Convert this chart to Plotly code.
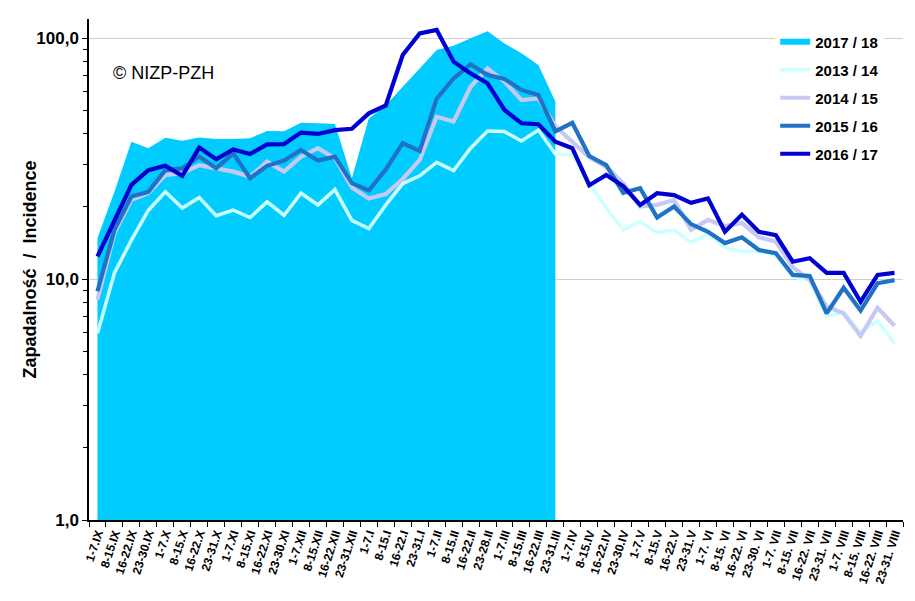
import plotly.graph_objects as go

weeks = ["1-7.IX", "8-15.IX", "16-22.IX", "23-30.IX", "1-7.X", "8-15.X", "16-22.X", "23-31.X",
         "1-7.XI", "8-15.XI", "16-22.XI", "23-30.XI", "1-7.XII", "8-15.XII", "16-22.XII", "23-31.XII",
         "1-7.I", "8-15.I", "16-22.I", "23-31.I", "1-7.II", "8-15.II", "16-22.II", "23-28.II",
         "1-7.III", "8-15.III", "16-22.III", "23-31.III", "1-7.IV", "8-15.IV", "16-22.IV", "23-30.IV",
         "1-7.V", "8-15.V", "16-22.V", "23-31.V", "1-7. VI", "8-15. VI", "16-22. VI", "23-30. VI",
         "1-7. VII", "8-15. VII", "16-22. VII", "23-31. VII", "1-7. VIII", "8-15. VIII", "16-22. VIII", "23-31. VIII"]

s2017_18 = [14.8, 23.0, 37.1, 34.9, 38.6, 37.5, 38.7, 38.1, 38.1, 38.4, 41.1, 41.0, 44.5, 44.3,
            44.0, 26.2, 46.4, 52.5, 62.8, 74.8, 89.1, 93.0, 99.7, 106.6, 95.0, 86.4, 77.3, 54.5]

s2013_14 = [5.95, 10.6, 14.5, 19.3, 23.0, 19.7, 21.8, 18.3, 19.3, 18.0, 20.9, 18.4, 22.7, 20.3,
            23.5, 17.5, 16.2, 20.3, 24.9, 26.8, 30.5, 28.2, 34.9, 41.1, 40.9, 37.4, 41.5, 33.0,
            32.7, 25.0, 19.7, 16.0, 17.3, 15.6, 16.0, 14.2, 15.4, 13.5, 13.0, 13.0, 12.6, 10.2,
            9.9, 7.0, 7.3, 6.0, 6.7, 5.4]

s2014_15 = [8.2, 15.5, 21.3, 22.7, 27.0, 27.5, 29.7, 28.8, 27.9, 26.6, 30.7, 27.9, 32.2, 34.9,
            31.7, 24.0, 21.6, 22.5, 26.0, 31.2, 47.1, 45.0, 62.8, 74.8, 65.9, 55.3, 56.2, 43.0,
            37.1, 32.0, 29.2, 25.0, 20.0, 20.3, 21.3, 16.0, 17.6, 16.6, 17.1, 14.9, 14.3, 11.2,
            9.9, 7.7, 7.2, 5.8, 7.6, 6.4]

s2015_16 = [8.9, 16.0, 22.0, 23.0, 28.3, 28.8, 32.2, 28.8, 33.2, 26.2, 29.5, 31.0, 34.3, 31.0,
            32.2, 25.0, 23.3, 28.5, 36.6, 34.0, 56.0, 68.0, 77.8, 70.2, 67.6, 60.9, 58.0, 41.0,
            44.5, 32.4, 29.7, 22.8, 23.8, 18.0, 20.0, 16.9, 15.7, 14.1, 14.9, 13.2, 12.8, 10.4,
            10.3, 7.2, 9.2, 7.4, 9.6, 9.9]

s2016_17 = [12.4, 17.6, 24.6, 28.3, 29.5, 26.8, 35.1, 31.4, 34.5, 33.0, 36.2, 36.3, 40.5, 40.0,
            41.5, 42.0, 48.7, 52.5, 85.0, 104.5, 108.0, 79.8, 71.3, 64.9, 50.3, 44.3, 43.9, 37.1,
            34.9, 24.5, 27.0, 24.3, 20.3, 22.7, 22.3, 20.7, 21.6, 15.7, 18.5, 15.7, 15.2, 11.8,
            12.2, 10.6, 10.6, 8.05, 10.4, 10.6]

y_tickvals = [1, 10, 100]
y_ticktext = ["1,0", "10,0", "100,0"]

FONT = "Liberation Sans, Arial, sans-serif"

fig = go.Figure()
fig.add_trace(go.Scatter(x=weeks[:len(s2017_18)], y=s2017_18, name="2017 / 18",
                         mode="none", fill="tozeroy", fillcolor="#00ccff",
                         legendgroup="a"))
line_series = [("2013 / 14", s2013_14, "#ccffff", 3.5, "b"),
               ("2014 / 15", s2014_15, "#c8c8f4", 4.2, "c"),
               ("2015 / 16", s2015_16, "#1f72c4", 4.2, "d"),
               ("2016 / 17", s2016_17, "#0000d0", 4.2, "e")]
for name, vals, col, w, grp in line_series:
    fig.add_trace(go.Scatter(x=weeks, y=vals, name=name, mode="lines",
                             line=dict(color=col, width=w), legendgroup=grp))

minor_vals = [m * 10 ** e for e in range(0, 3) for m in range(2, 10)]

fig.update_layout(
    width=899, height=585,
    margin=dict(l=81, r=4, t=11, b=73),
    paper_bgcolor="white", plot_bgcolor="white",
    font=dict(family=FONT, color="black"),
    showlegend=True,
    legend=dict(x=0.843, y=0.987, xanchor="left", yanchor="top",
                bgcolor="white", font=dict(size=15, weight="bold", family=FONT),
                tracegroupgap=5.5, itemwidth=30),
    xaxis=dict(type="category", range=[-0.5, len(weeks) - 0.5],
               showline=True, linecolor="black", linewidth=1.5,
               ticks="outside", ticklen=5, tickcolor="black", tickson="boundaries",
               tickangle=-72, tickfont=dict(size=12, weight="bold", family=FONT),
               showgrid=False, automargin=False),
    yaxis=dict(type="log", range=[0, 2.079],
               tickvals=y_tickvals, ticktext=y_ticktext,
               showline=True, linecolor="black", linewidth=1.5,
               ticks="outside", ticklen=5, tickcolor="black",
               tickfont=dict(size=17, weight="bold", family=FONT),
               showgrid=True, gridcolor="#cfcfcf", gridwidth=1.2,
               minor=dict(tickvals=minor_vals, ticks="outside", ticklen=4,
                          tickcolor="black", showgrid=False),
               zeroline=False, automargin=False),
    annotations=[
        dict(text="Zapadalność  /  Incidence", xref="paper", yref="paper",
             x=-0.0737, y=0.5, xanchor="center", yanchor="middle",
             textangle=-90, showarrow=False,
             font=dict(size=18, weight="bold", family=FONT)),
        dict(text="© NIZP-PZH", xref="paper", yref="paper",
             x=0.027, y=0.892, xanchor="left", yanchor="middle", showarrow=False,
             font=dict(size=18, family=FONT)),
    ],
)

fig.write_html("out.html")
